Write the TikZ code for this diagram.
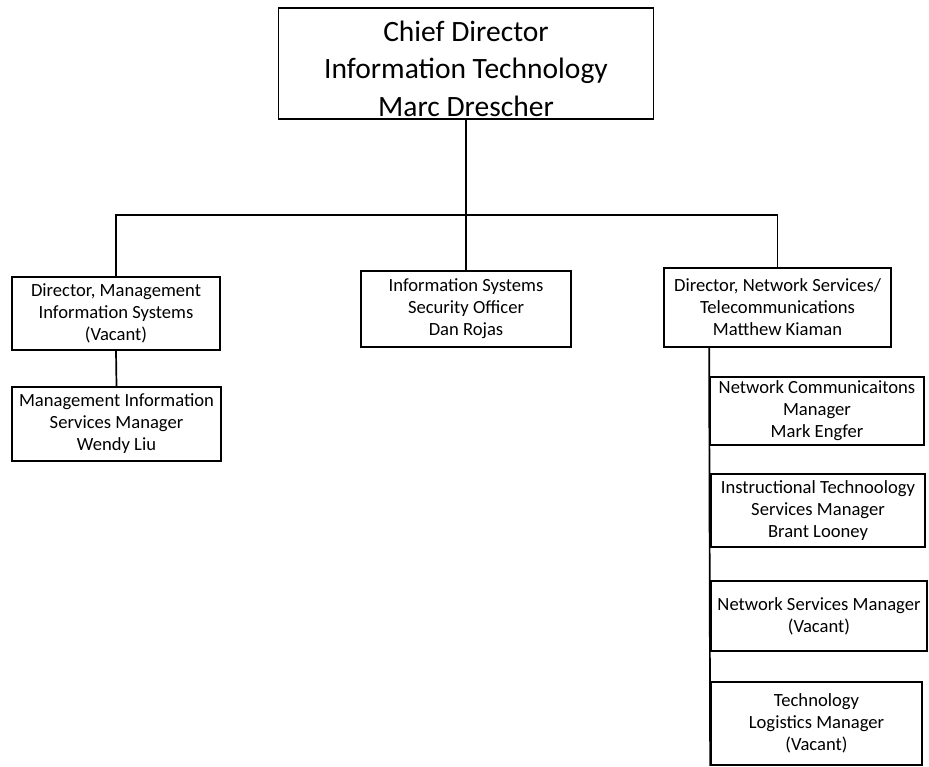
\documentclass[tikz,border=0pt]{standalone}
\usepackage{fontspec}
\setmainfont{Carlito}
\begin{document}
\begin{tikzpicture}[x=1pt,y=-1pt,
  box/.style={draw=black, line width=1.7pt, inner sep=0pt, align=center, font=\fontsize{18.6}{22}\selectfont},
  bigbox/.style={draw=black, line width=1.7pt, inner sep=0pt},
  bigtext/.style={inner sep=0pt, align=center, font=\fontsize{29.5}{37.5}\selectfont},
  conn/.style={draw=black, line width=1.7pt}]
\useasboundingbox[fill=white] (0,0) rectangle (929,766);

\node[bigbox, minimum width=375pt, minimum height=111pt] (top) at (466,63.5) {};
\node[bigtext] (toptext) at ([yshift=-5pt]top.center)
  {Chief Director\\Information Technology\\Marc Drescher};

\node[box, minimum width=208pt, minimum height=73pt] (L1) at (116,313.5)
  {Director, Management\\Information Systems\\(Vacant)};
\node[box, minimum width=209pt, minimum height=74pt] (L2) at (116.5,424)
  {Management Information\\Services Manager\\Wendy Liu};
\node[box, minimum width=210pt, minimum height=76pt] (M) at (466,309)
  {Information Systems\\Security Officer\\Dan Rojas};
\node[box, minimum width=227pt, minimum height=79pt] (R) at (777.5,307.5)
  {Director, Network Services/\\Telecommunications\\Matthew Kiaman};

\node[box, minimum width=214pt, minimum height=68pt] (R1) at (817,411)
  {Network Communicaitons\\Manager\\Mark Engfer};
\node[box, minimum width=214pt, minimum height=73pt] (R2) at (818,510.5)
  {Instructional Technoology\\Services Manager\\Brant Looney};
\node[box, minimum width=216pt, minimum height=70pt] (R3) at (819,616)
  {Network Services Manager\\(Vacant)};
\node[box, minimum width=211pt, minimum height=83pt] (R4) at (816.5,723.5)
  {Technology\\Logistics Manager\\(Vacant)};

\coordinate (bus) at (top.south |- 0,215);
\draw[conn] (top.south) -- (bus);
\draw[conn] (L1.north) |- (bus) -| (R.north);
\draw[conn] (bus) -- (M.north);
\draw[conn] (L1.south) -- (L2.north);
\draw[conn] (R1.west |- R.south) -- (R4.south west);
\end{tikzpicture}
\end{document}
